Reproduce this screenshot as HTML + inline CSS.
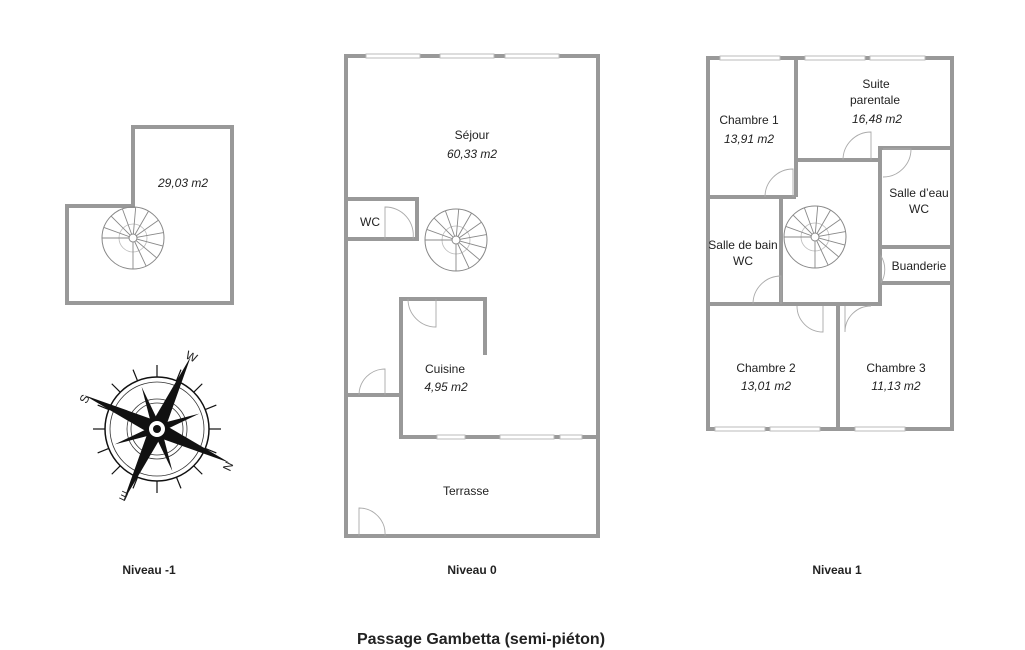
<!DOCTYPE html>
<html><head><meta charset="utf-8"><style>
html,body{margin:0;padding:0;background:#fff}
svg{display:block}
text{font-family:"Liberation Sans",sans-serif;font-size:12px;fill:#222}
.i{font-style:italic}
.b{font-weight:bold}
</style></head><body>
<svg width="1025" height="650" viewBox="0 0 1025 650" xmlns="http://www.w3.org/2000/svg">
<defs>
<g id="stair">
<circle r="31" fill="none" stroke="#888" stroke-width="1"/>
<circle r="14" fill="none" stroke="#bbb" stroke-width="0.8"/>
<circle r="4" fill="#fff" stroke="#888" stroke-width="1"/>
<g stroke="#888" stroke-width="0.9">
<line x1="4" y1="0" x2="31" y2="0" transform="rotate(-160)"/>
<line x1="4" y1="0" x2="31" y2="0" transform="rotate(-135)"/>
<line x1="4" y1="0" x2="31" y2="0" transform="rotate(-110)"/>
<line x1="4" y1="0" x2="31" y2="0" transform="rotate(-85)"/>
<line x1="4" y1="0" x2="31" y2="0" transform="rotate(-60)"/>
<line x1="4" y1="0" x2="31" y2="0" transform="rotate(-35)"/>
<line x1="4" y1="0" x2="31" y2="0" transform="rotate(-10)"/>
<line x1="4" y1="0" x2="31" y2="0" transform="rotate(15)"/>
<line x1="4" y1="0" x2="31" y2="0" transform="rotate(40)"/>
<line x1="4" y1="0" x2="31" y2="0" transform="rotate(65)"/>
<line x1="4" y1="0" x2="31" y2="0" transform="rotate(90)"/>
<line x1="-31" y1="0" x2="-4" y2="0"/>
</g>
</g>
</defs>
<g fill="none" stroke="#999" stroke-width="4">
<!-- Level -1 -->
<polygon points="133,127 232,127 232,303 67,303 67,206 133,206"/>
<!-- Level 0 -->
<rect x="346" y="56" width="252" height="480"/>
<polyline points="346,199 417,199 417,239 346,239"/>
<polyline points="485,355 485,299 401,299 401,437 598,437"/>
<line x1="346" y1="395" x2="401" y2="395"/>
<!-- Level 1 -->
<rect x="708" y="58" width="244" height="371"/>
<line x1="796" y1="58" x2="796" y2="197"/>
<line x1="708" y1="197" x2="796" y2="197"/>
<line x1="796" y1="160" x2="880" y2="160"/>
<polyline points="880,283 880,148 952,148"/>
<line x1="880" y1="247" x2="952" y2="247"/>
<line x1="880" y1="283" x2="952" y2="283"/>
<line x1="781" y1="197" x2="781" y2="304"/>
<polyline points="708,304 880,304 880,283"/>
<line x1="838" y1="304" x2="838" y2="429"/>
</g>
<!-- windows -->
<g fill="#fff" stroke="#bbb" stroke-width="1">
<rect x="366" y="54" width="54" height="4"/><rect x="440" y="54" width="54" height="4"/><rect x="505" y="54" width="54" height="4"/>
<rect x="437" y="435" width="28" height="4"/><rect x="500" y="435" width="54" height="4"/><rect x="560" y="435" width="22" height="4"/>
<rect x="720" y="56" width="60" height="4"/><rect x="805" y="56" width="60" height="4"/><rect x="870" y="56" width="55" height="4"/>
<rect x="715" y="427" width="50" height="4"/><rect x="770" y="427" width="50" height="4"/><rect x="855" y="427" width="50" height="4"/>
</g>
<!-- doors -->
<g fill="none" stroke="#aaa" stroke-width="0.9">
<path d="M385,239 V207 A28,28 0 0 1 413,239"/>
<path d="M408,299 A28,28 0 0 0 436,327 V299"/>
<path d="M359,395 A26,26 0 0 1 385,369 V395"/>
<path d="M359,536 V508 A26,26 0 0 1 385,536"/>
<path d="M765,197 A28,28 0 0 1 793,169 V197"/>
<path d="M843,160 A28,28 0 0 1 871,132 V160"/>
<path d="M883,177 A28,28 0 0 0 911,149 H883"/>
<path d="M753,304 A28,28 0 0 1 781,276 V304"/>
<path d="M881,283 V256 A26,26 0 0 1 881,283"/>
<path d="M797,306 A26,26 0 0 0 823,332 V306"/>
<path d="M845,306 V332 A26,26 0 0 1 871,306"/>
</g>
<use href="#stair" x="133" y="238"/>
<use href="#stair" x="456" y="240"/>
<use href="#stair" x="815" y="237"/>
<!-- compass -->
<g transform="translate(157,429)">
<circle r="52" fill="none" stroke="#111" stroke-width="1.5"/>
<circle r="47" fill="none" stroke="#333" stroke-width="0.8"/>
<circle r="30" fill="none" stroke="#333" stroke-width="0.8"/>
<circle r="26" fill="none" stroke="#333" stroke-width="0.8"/>
<g stroke="#111" stroke-width="1.2">
<line x1="0" y1="-52" x2="0" y2="-64" transform="rotate(0)"/>
<line x1="0" y1="-52" x2="0" y2="-64" transform="rotate(22)"/>
<line x1="0" y1="-52" x2="0" y2="-64" transform="rotate(45)"/>
<line x1="0" y1="-52" x2="0" y2="-64" transform="rotate(68)"/>
<line x1="0" y1="-52" x2="0" y2="-64" transform="rotate(90)"/>
<line x1="0" y1="-52" x2="0" y2="-64" transform="rotate(112)"/>
<line x1="0" y1="-52" x2="0" y2="-64" transform="rotate(135)"/>
<line x1="0" y1="-52" x2="0" y2="-64" transform="rotate(158)"/>
<line x1="0" y1="-52" x2="0" y2="-64" transform="rotate(180)"/>
<line x1="0" y1="-52" x2="0" y2="-64" transform="rotate(202)"/>
<line x1="0" y1="-52" x2="0" y2="-64" transform="rotate(225)"/>
<line x1="0" y1="-52" x2="0" y2="-64" transform="rotate(248)"/>
<line x1="0" y1="-52" x2="0" y2="-64" transform="rotate(270)"/>
<line x1="0" y1="-52" x2="0" y2="-64" transform="rotate(292)"/>
<line x1="0" y1="-52" x2="0" y2="-64" transform="rotate(315)"/>
<line x1="0" y1="-52" x2="0" y2="-64" transform="rotate(338)"/>
</g>
<g fill="#111">
<polygon points="0,-80 7,-6 0,0 -7,-6" transform="rotate(25)"/>
<polygon points="0,-80 7,-6 0,0 -7,-6" transform="rotate(115)"/>
<polygon points="0,-80 7,-6 0,0 -7,-6" transform="rotate(205)"/>
<polygon points="0,-80 7,-6 0,0 -7,-6" transform="rotate(295)"/>
<polygon points="0,-45 4,-4 0,0 -4,-4" transform="rotate(70)"/>
<polygon points="0,-45 4,-4 0,0 -4,-4" transform="rotate(160)"/>
<polygon points="0,-45 4,-4 0,0 -4,-4" transform="rotate(250)"/>
<polygon points="0,-45 4,-4 0,0 -4,-4" transform="rotate(340)"/>
</g>
<circle r="9" fill="#fff" stroke="#111" stroke-width="2"/>
<circle r="4" fill="#111"/>
</g>
<g style="font-family:'Liberation Serif',serif;font-size:13px">
<text x="186" y="360" transform="rotate(25 190 356)">W</text>
<text x="80" y="402" transform="rotate(-65 85 398)">S</text>
<text x="224" y="470" transform="rotate(115 228 466)">N</text>
<text x="116" y="499" transform="rotate(205 122 495)">E</text>
</g>
<!-- labels -->
<g text-anchor="middle">
<text class="i" x="183" y="187">29,03 m2</text>
<text x="472" y="139">Séjour</text>
<text class="i" x="472" y="158">60,33 m2</text>
<text x="370" y="226">WC</text>
<text x="445" y="373">Cuisine</text>
<text class="i" x="446" y="391">4,95 m2</text>
<text x="466" y="495">Terrasse</text>
<text x="749" y="124">Chambre 1</text>
<text class="i" x="749" y="143">13,91 m2</text>
<text x="876" y="88">Suite</text>
<text x="875" y="104">parentale</text>
<text class="i" x="877" y="123">16,48 m2</text>
<text x="919" y="197">Salle d’eau</text>
<text x="919" y="213">WC</text>
<text x="743" y="249">Salle de bain</text>
<text x="743" y="265">WC</text>
<text x="919" y="270">Buanderie</text>
<text x="766" y="372">Chambre 2</text>
<text class="i" x="766" y="390">13,01 m2</text>
<text x="896" y="372">Chambre 3</text>
<text class="i" x="896" y="390">11,13 m2</text>
<text class="b" x="149" y="574">Niveau -1</text>
<text class="b" x="472" y="574">Niveau 0</text>
<text class="b" x="837" y="574">Niveau 1</text>
<text class="b" x="481" y="644" style="font-size:16px">Passage Gambetta (semi-piéton)</text>
</g>
</svg>
</body></html>
